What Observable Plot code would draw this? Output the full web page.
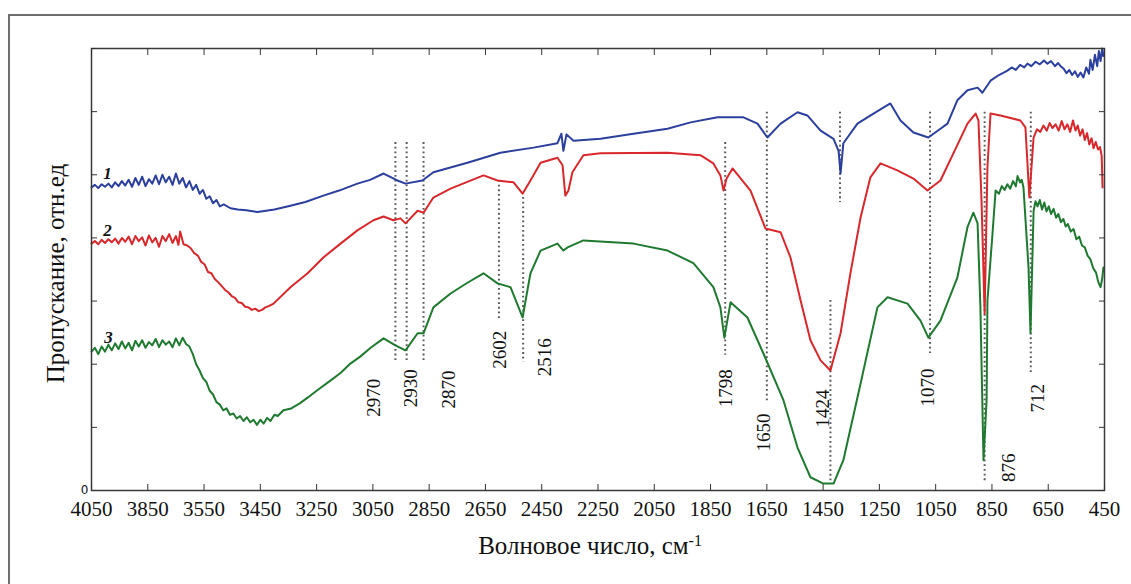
<!DOCTYPE html>
<html><head><meta charset="utf-8">
<script src="https://cdn.jsdelivr.net/npm/d3@7"></script>
<script src="https://cdn.jsdelivr.net/npm/@observablehq/plot@0.6"></script>
<style>
html,body{margin:0;padding:0;background:#fff;overflow:hidden;width:1131px;height:584px}
#border{position:absolute;left:8px;top:14px;width:1300px;height:800px;border:2px solid #6e6e6e;}
#chart{position:absolute;left:0;top:0}
</style></head><body>
<div id="border"></div>
<div id="chart"></div>
<script>
// Spectrum 1 (blue)
const wn1 = [4050,4038,4026,4014,4002,3990,3978,3966,3954,3942,3930,3918,3906,3894,3882,3870,3858,3846,3834,3822,3810,3798,3786,3774,3762,3750,3738,3726,3714,3702,3690,3678,3666,3654,3642,3630,3618,3606,3594,3580,3556,3530,3500,3460,3400,3343,3290,3226,3170,3105,3060,3012,2963,2934,2874,2835,2714,2597,2479,2394,2380,2373,2362,2337,2241,2124,2003,1921,1825,1733,1683,1648,1601,1541,1506,1459,1413,1395,1388,1378,1328,1271,1211,1175,1129,1076,1033,1008,973,937,901,884,855,825,795,780,765,750,735,724,710,695,680,665,653,640,626,615,606,595,585,575,565,555,545,535,525,515,505,500,492,484,476,470,464,458,454];
const t1  = [4.80,4.84,4.79,4.85,4.81,4.86,4.80,4.88,4.82,4.90,4.83,4.92,4.81,4.95,4.84,4.97,4.82,4.93,4.86,4.99,4.85,5.00,4.88,4.97,4.84,5.02,4.86,4.95,4.80,4.90,4.76,4.84,4.70,4.76,4.62,4.66,4.55,4.60,4.50,4.53,4.47,4.45,4.44,4.41,4.45,4.51,4.57,4.67,4.75,4.86,4.92,5.02,4.91,4.86,4.91,5.04,5.19,5.35,5.43,5.50,5.65,5.38,5.64,5.54,5.57,5.65,5.73,5.83,5.91,5.91,5.81,5.59,5.81,5.99,5.94,5.70,5.57,5.38,5.02,5.50,5.81,5.97,6.13,5.86,5.67,5.59,5.73,5.81,6.18,6.34,6.38,6.30,6.49,6.58,6.65,6.70,6.66,6.74,6.70,6.76,6.72,6.79,6.75,6.81,6.76,6.80,6.72,6.77,6.72,6.68,6.61,6.66,6.58,6.64,6.55,6.62,6.54,6.70,6.60,6.82,6.66,6.90,6.72,6.96,6.80,7.00,6.88];
// Spectrum 2 (red)
const wn2 = [4050,4038,4026,4014,4002,3990,3978,3966,3954,3942,3930,3918,3906,3894,3882,3870,3858,3846,3834,3822,3810,3798,3786,3774,3762,3750,3741,3735,3723,3710,3698,3685,3672,3660,3648,3636,3624,3612,3600,3588,3576,3564,3552,3540,3528,3516,3504,3492,3480,3468,3456,3444,3432,3420,3403,3343,3282,3226,3165,3105,3048,3012,2977,2952,2934,2891,2870,2835,2774,2657,2607,2550,2518,2490,2454,2394,2376,2366,2355,2341,2302,2241,2003,1886,1840,1815,1804,1793,1772,1708,1655,1601,1566,1530,1495,1459,1424,1388,1353,1317,1282,1246,1186,1129,1079,1033,987,937,908,898,887,876,866,855,820,749,731,717,702,690,678,667,655,645,635,624,613,602,592,582,572,562,553,545,537,528,520,512,504,496,489,481,473,466,460,457];
const t2  = [3.91,3.95,3.90,3.97,3.92,3.98,3.93,3.99,3.91,4.00,3.94,4.02,3.90,4.03,3.95,4.01,3.88,4.04,3.93,4.00,3.86,4.03,3.95,4.06,3.92,4.03,3.89,4.10,3.90,3.88,3.84,3.76,3.72,3.62,3.58,3.46,3.44,3.35,3.30,3.24,3.18,3.14,3.08,3.05,2.98,2.97,2.91,2.90,2.86,2.88,2.84,2.86,2.90,2.92,2.96,3.22,3.44,3.69,3.91,4.12,4.28,4.34,4.28,4.31,4.23,4.43,4.40,4.64,4.78,4.99,4.91,4.88,4.70,4.91,5.19,5.27,5.15,4.67,4.75,5.04,5.31,5.34,5.35,5.31,5.18,4.99,4.75,4.94,5.10,4.75,4.15,4.09,3.69,3.01,2.38,2.06,1.90,2.49,3.44,4.32,4.96,5.18,5.07,4.94,4.75,4.91,5.34,5.81,5.97,5.86,4.59,2.80,5.12,5.97,5.94,5.86,5.75,4.64,5.59,5.72,5.68,5.78,5.70,5.82,5.74,5.80,5.70,5.85,5.72,5.80,5.68,5.86,5.70,5.78,5.62,5.72,5.55,5.66,5.48,5.58,5.42,5.52,5.40,5.44,5.30,4.80];
// Spectrum 3 (green)
const wn3 = [4050,4038,4026,4014,4002,3990,3978,3966,3954,3942,3930,3918,3906,3894,3882,3870,3858,3846,3834,3822,3810,3798,3786,3774,3762,3750,3738,3726,3714,3702,3690,3678,3666,3654,3642,3630,3618,3606,3594,3582,3570,3558,3546,3534,3522,3510,3498,3486,3474,3462,3450,3438,3426,3414,3400,3388,3368,3340,3310,3282,3250,3201,3165,3130,3095,3058,3012,2970,2934,2891,2870,2835,2774,2714,2657,2607,2561,2518,2490,2454,2394,2373,2358,2302,2124,2003,1911,1840,1815,1801,1779,1719,1662,1591,1541,1495,1449,1413,1378,1317,1257,1221,1150,1104,1076,1033,973,937,916,901,891,880,869,866,848,837,825,815,805,795,785,775,765,759,750,744,738,720,713,702,695,688,680,672,664,656,648,640,631,622,614,605,596,588,580,570,560,550,540,530,520,510,500,490,480,472,464,458,454];
const t3  = [2.20,2.26,2.16,2.28,2.20,2.31,2.22,2.33,2.24,2.36,2.25,2.34,2.22,2.37,2.28,2.38,2.26,2.35,2.30,2.40,2.27,2.38,2.31,2.36,2.27,2.41,2.30,2.42,2.32,2.28,2.16,2.00,1.90,1.78,1.72,1.58,1.52,1.40,1.36,1.27,1.30,1.20,1.22,1.14,1.18,1.10,1.16,1.08,1.12,1.04,1.12,1.06,1.15,1.10,1.20,1.18,1.27,1.30,1.38,1.47,1.58,1.74,1.86,2.01,2.12,2.26,2.41,2.30,2.22,2.49,2.49,2.90,3.12,3.29,3.44,3.28,3.22,2.74,3.44,3.80,3.91,3.80,3.85,3.96,3.91,3.80,3.60,3.22,2.90,2.42,2.98,2.74,2.17,1.43,0.68,0.21,0.11,0.11,0.48,1.69,2.90,3.06,2.96,2.69,2.42,2.69,3.37,4.17,4.40,4.23,2.90,0.48,1.43,3.01,4.07,4.75,4.70,4.82,4.76,4.85,4.78,4.90,4.82,4.98,4.88,4.92,4.80,3.53,2.49,4.43,4.58,4.50,4.60,4.45,4.56,4.42,4.50,4.38,4.46,4.32,4.38,4.25,4.30,4.18,4.22,4.10,4.14,3.98,4.02,3.88,3.85,3.72,3.66,3.52,3.45,3.30,3.22,3.36,3.53];

const seriesNames = ["1","2","3"];
const seriesColors = ["#2b3f9e","#d8282c","#1f7a30"];
const seriesLabelWn = [3993,3993,3990];
const seriesLabelT = [5.02,4.12,2.42];

// x-axis ticks and their printed labels
const xTicks = [4050,3850,3650,3450,3250,3050,2850,2650,2450,2250,2050,1850,1650,1450,1250,1050,850,650,450];
const xTickLabels = ["4050","3850","3550","3450","3250","3050","2850","2650","2450","2250","2050","1850","1650","1450","1250","1050","850","650","450"];
const yTicks = [0,1,2,3,4,5,6,7];

// Band markers
const peakLabels = ["2970","2930","2870","2602","2516","1798","1650","1424","","1070","876","712"];
const peakWn     = [2970,2930,2870,2602,2516,1798,1650,1424,1390,1070,876,712];
const peakTop    = [5.51,5.51,5.51,4.91,4.64,5.51,5.99,3.01,5.99,5.99,5.99,5.99];
const peakBottom = [2.01,2.01,2.01,2.69,2.03,2.14,1.38,0.11,4.56,2.17,0.11,1.87];
const peakLabelWn = [3048,2916,2781,2600,2437,1797,1662,1449,null,1079,791,685];
const peakLabelT  = [1.47,1.62,1.60,2.23,2.11,1.62,0.92,1.30,null,1.63,0.36,1.46];

const xTitle = "Волновое число, см";
const xTitleSup = "-1";
const yTitle = "Пропускание, отн.ед";

const spectra = [
  ...wn1.map((w,i)=>({wn:w, t:t1[i], s:"1"})),
  ...wn2.map((w,i)=>({wn:w, t:t2[i], s:"2"})),
  ...wn3.map((w,i)=>({wn:w, t:t3[i], s:"3"})),
];
const peaks = peakWn.map((w,i)=>({wn:w, top:peakTop[i], bottom:peakBottom[i], label:peakLabels[i], lx:peakLabelWn[i], ly:peakLabelT[i]}));
const seriesLabels = seriesNames.map((n,i)=>({name:n, wn:seriesLabelWn[i], t:seriesLabelT[i]}));

const serif = "'Liberation Serif','Times New Roman',serif";

const chart = Plot.plot({
  width: 1131, height: 584,
  marginLeft: 91, marginRight: 27, marginTop: 48, marginBottom: 94,
  style: {fontFamily: serif, background: "transparent", color: "#111", overflow: "visible"},
  x: {domain: [4050, 450]},
  y: {domain: [0, 7]},
  color: {domain: seriesNames, range: seriesColors},
  marks: [
    Plot.ruleX(peaks, {x: "wn", y1: "top", y2: "bottom", stroke: "#5a5a5a", strokeWidth: 2, strokeDasharray: "1.8,2.9"}),
    Plot.line(spectra, {x: "wn", y: "t", z: "s", stroke: "s", strokeWidth: 2, strokeLinejoin: "round"}),
    Plot.frame({stroke: "#3a3a3a", strokeWidth: 1.5}),
    Plot.axisX(xTicks, {anchor: "bottom", tickSize: -6, tickPadding: 17, tickFormat: d => xTickLabels[xTicks.indexOf(d)], fontSize: 21, label: null, stroke: "#333"}),
    Plot.axisX(xTicks, {anchor: "top", tickSize: -6, tickFormat: () => "", label: null, stroke: "#333"}),
    Plot.axisY(yTicks, {anchor: "left", tickSize: -6, tickPadding: 9, tickFormat: d => d === 0 ? "0" : "", fontSize: 12, fontFamily: "'DejaVu Sans',sans-serif", label: null, stroke: "#333"}),
    Plot.axisY(yTicks, {anchor: "right", tickSize: -6, tickFormat: () => "", label: null, stroke: "#333"}),
    Plot.text(peaks.filter(d => d.label), {x: "lx", y: "ly", text: "label", rotate: -90, fontSize: 19, fill: "#111"}),
    Plot.text(seriesLabels, {x: "wn", y: "t", text: "name", fontSize: 17, fontStyle: "italic", fontWeight: "bold", fill: "#111"}),
    Plot.text([yTitle], {frameAnchor: "left", dx: -36, dy: 4, rotate: -90, textAnchor: "middle", fontSize: 25, fill: "#111"}),
    Plot.text([xTitle], {frameAnchor: "bottom", dy: 63, dx: -8, textAnchor: "middle", fontSize: 25, fill: "#111"})
  ]
});
document.getElementById("chart").appendChild(chart);
d3.select(chart).selectAll("text").filter(function(){ return this.textContent === xTitle; })
  .append("tspan").attr("dy", "-0.45em").attr("font-size", 16).text(xTitleSup);
</script>
</body></html>
